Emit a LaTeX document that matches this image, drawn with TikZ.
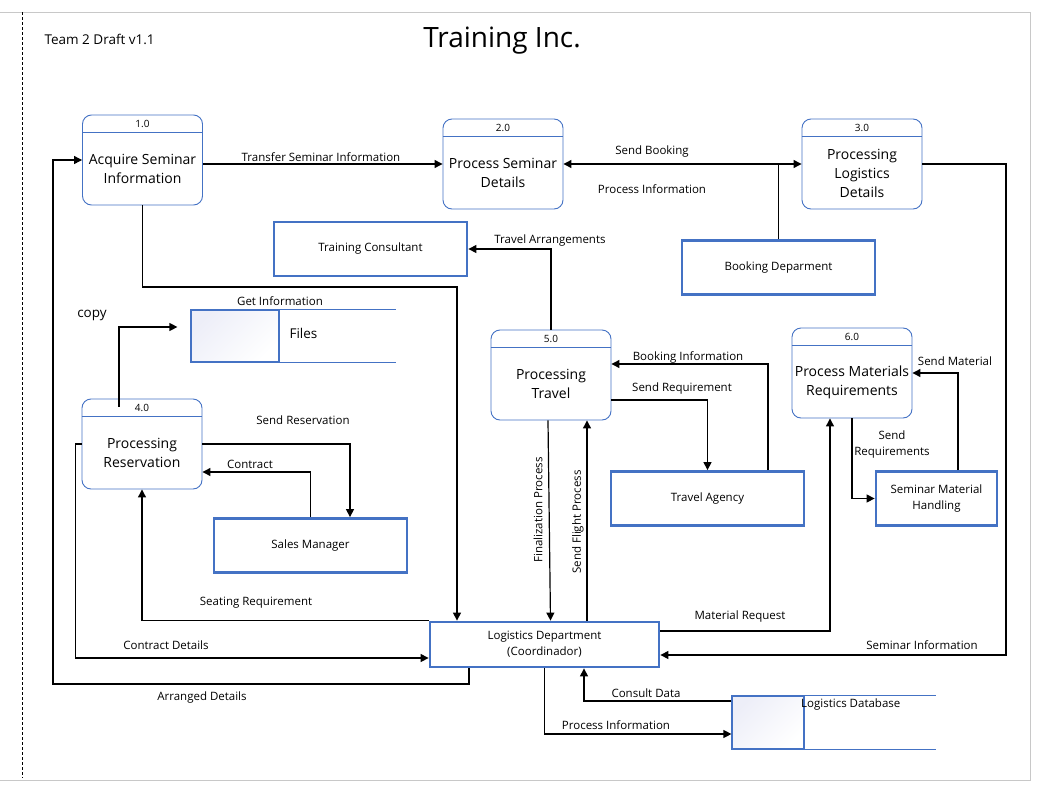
\documentclass[tikz,border=0pt]{standalone}
\usepackage{fontspec}
\setmainfont{Open Sans}
\usetikzlibrary{arrows.meta}
\definecolor{dfdblue}{HTML}{4472C4}
\definecolor{storefill}{HTML}{EDEEF8}
\definecolor{pagegray}{HTML}{C8C8C8}
\tikzset{
  process/.style = {rectangle, rounded corners=9pt, draw=dfdblue,
    line width=0.9pt, minimum width=120pt, minimum height=90pt},% process bubble
  procline/.style = {draw=dfdblue, line width=0.9pt},
  procnum/.style = {font=\fontsize{10}{12}\selectfont},
  proctext/.style = {align=center, font=\fontsize{14}{19}\selectfont},
  entity/.style = {rectangle, draw=dfdblue, line width=2.8pt, align=center,
    minimum width=193pt, minimum height=54pt,
    font=\fontsize{11.5}{16}\selectfont},% external entity
  store/.style = {rectangle, draw=dfdblue, line width=1.2pt, shading=axis,
    top color=storefill, bottom color=white, shading angle=45},% data store
  storeline/.style = {draw=dfdblue, line width=1.2pt},
  conn/.style = {line width=1.2pt},
  flow/.style = {font=\fontsize{11.5}{16}\selectfont, inner sep=1pt},% flow label
}
\newcommand{\dfdprocess}[4]{% name, centre, number, text
  \node[process] (#1) at (#2) {};
  \draw[procline] ([yshift=-18pt]#1.north west) -- ([yshift=-18pt]#1.north east);
  \node[procnum] at ([yshift=-9pt]#1.north) {#3};
  \node[proctext] at ([yshift=-9pt]#1.center) {#4};
}

\begin{document}
\begin{tikzpicture}[x=1pt, y=-1pt, >={Triangle[length=8pt,width=8pt]}]
\useasboundingbox (0,0) rectangle (1037,790);
\draw[pagegray, line width=1pt] (0,12) -- (1030,12) -- (1030,780) -- (0,780);
\draw[line width=0.8pt, dash pattern=on 3pt off 2pt] (22,12) -- (22,778);

\node[anchor=west, font=\fontsize{13.5}{16}\selectfont] (team) at (41,39) {Team 2 Draft v1.1};
\node[font=\fontsize{28}{32}\selectfont] (title) at (502,41) {Training Inc.};

% processes
\dfdprocess{p1}{142.5,160}{1.0}{Acquire Seminar\\Information}
\dfdprocess{p2}{503,164}{2.0}{Process Seminar\\Details}
\dfdprocess{p3}{862,164}{3.0}{Processing\\Logistics\\Details}
\dfdprocess{p4}{142,444}{4.0}{Processing\\Reservation}
\dfdprocess{p5}{551,375}{5.0}{Processing\\Travel}
\dfdprocess{p6}{852,373}{6.0}{Process Materials\\Requirements}

% external entities
\node[entity] (tc) at (370.5,249) {Training Consultant};
\node[entity] (bd) at (778.5,267.5) {Booking Deparment};
\node[entity] (sm) at (310.5,545.5) {Sales Manager};
\node[entity] (ta) at (707.5,498.5) {Travel Agency};
\node[entity, minimum width=121pt] (smh) at (936.5,498.5) {Seminar Material\\Handling};
\node[entity, minimum width=229pt, minimum height=45pt] (ld) at (544.5,644.5) {Logistics Department\\(Coordinador)};

% data stores
\node[store, minimum width=88pt, minimum height=52pt] (files) at (235,336) {};
\draw[storeline] (files.north east) -- ++(116,0);
\draw[storeline] (files.south east) -- ++(116,0);
\node[anchor=west, font=\fontsize{13.5}{16}\selectfont] (fileslbl) at (286,333) {Files};
\node[store, minimum width=72pt, minimum height=53pt] (ldb) at (768,722.5) {};
\draw[storeline] (ldb.north east) -- ++(131,0);
\draw[storeline] (ldb.south east) -- ++(131,0);
\node[flow, anchor=north west] (ldblbl) at (800,698) {Logistics Database};

% flows
\draw[conn, ->] (p1.east |- p2.west) -- (p2.west);
\draw[conn, <->] (p2.east) -- (p3.west);
\draw[conn] (bd.north) -- (bd.north |- p3.west);
\draw[conn, ->] (p3.east) -| (1006,655) -- ([yshift=-10.5pt]ld.east);
\draw[conn, ->] ([xshift=-75.5pt]ld.south) |- (53,684) |- (p1.west);
\draw[conn, ->] (p1.south) |- (457,287) -- ([xshift=-87.5pt]ld.north);
\draw[conn, ->] (p5.north) |- (tc.east);
\draw[conn, ->] ([xshift=-23pt,yshift=-8pt]p4.north) |- ([xshift=-13pt,yshift=9pt]files.west);
\draw[conn, ->] (p4.east) -| ([xshift=39.5pt]sm.north);
\draw[conn, ->] (sm.north) |- ([yshift=-28pt]p4.east);
\draw[conn, ->] (ld.north west) -| (p4.south);
\draw[conn, ->] (p4.west) -- ++(-6,0) |- ([yshift=-13.5pt]ld.west);
\draw[conn, ->] ([xshift=-3pt]p5.south) -- ([xshift=6pt]ld.north);
\draw[conn, ->] ([xshift=42.5pt]ld.north) -- ([xshift=36pt]p5.south);
\draw[conn, ->] ([xshift=60.5pt]ta.north) |- ([yshift=11pt]p5.east);
\draw[conn, ->] ([yshift=-25pt]p5.east) -| (ta.north);
\draw[conn, ->] ([yshift=13.5pt]ld.east) -| ([xshift=-22pt]p6.south);
\draw[conn, ->] (p6.south) |- (smh.west);
\draw[conn, ->] ([xshift=21.5pt]smh.north) |- (p6.east);
\draw[conn, ->] ([yshift=21.5pt]ldb.west) -| ([xshift=39.5pt]ld.south);
\draw[conn, ->] (ld.south) |- ([yshift=-11.5pt]ldb.west);

% flow labels
\node[flow] at (321,157) {Transfer Seminar Information};
\node[flow] at (652,152) {Send Booking};
\node[flow] at (652,189) {Process Information};
\node[flow] at (550,241) {Travel Arrangements};
\node[flow] at (280,301) {Get Information};
\node[font=\fontsize{13.5}{16}\selectfont] at (92,315) {copy};
\node[flow] at (303,420) {Send Reservation};
\node[flow] at (250,464) {Contract};
\node[flow] at (688,357) {Booking Information};
\node[flow] at (682,389) {Send Requirement};
\node[flow] at (955,361) {Send Material};
\node[flow, align=center] at (892,445) {Send\\Requirements};
\node[flow, rotate=90] at (538,510) {Finalization Process};
\node[flow, rotate=90] at (578,522) {Send Flight Process};
\node[flow] at (256,603) {Seating Requirement};
\node[flow] at (166,645) {Contract Details};
\node[flow] at (202,698) {Arranged Details};
\node[flow] at (740,617) {Material Request};
\node[flow] at (922,645) {Seminar Information};
\node[flow] at (646,693) {Consult Data};
\node[flow] at (616,725) {Process Information};
\end{tikzpicture}
\end{document}
